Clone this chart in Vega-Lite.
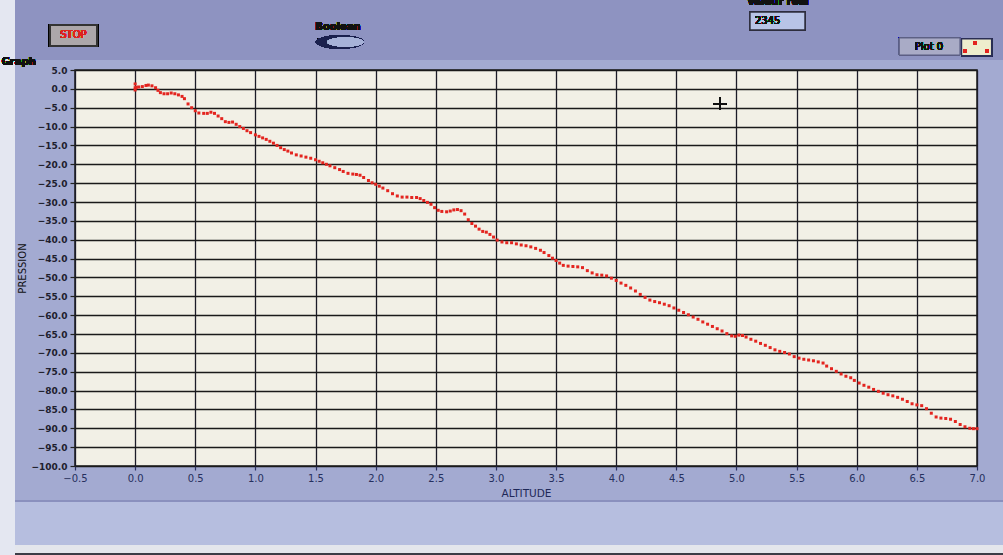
{
  "$schema": "https://vega.github.io/schema/vega-lite/v6.json",
  "autosize": {"type": "none"},
  "width": 902,
  "height": 396,
  "padding": {"left": 75, "top": 70, "right": 26, "bottom": 89},
  "background": "#a3aad1",
  "config": {
    "view": {"fill": "#f2f0e6", "stroke": "#1e1e1e", "strokeWidth": 1.5},
    "font": "DejaVu Sans"
  },
  "data": {"values": [
    {"altitude": 0.0, "pression": 1.3}, {"altitude": 0.0, "pression": 0.3}, {"altitude": 0.0, "pression": -0.3},
    {"altitude": 0.01, "pression": 0.4}, {"altitude": 0.03, "pression": 0.5}, {"altitude": 0.06, "pression": 0.6},
    {"altitude": 0.09, "pression": 0.9}, {"altitude": 0.11, "pression": 1.0}, {"altitude": 0.14, "pression": 0.8},
    {"altitude": 0.17, "pression": 0.3}, {"altitude": 0.19, "pression": -0.4}, {"altitude": 0.21, "pression": -1.0},
    {"altitude": 0.24, "pression": -1.3}, {"altitude": 0.27, "pression": -1.3}, {"altitude": 0.30, "pression": -1.1},
    {"altitude": 0.33, "pression": -1.3}, {"altitude": 0.36, "pression": -1.6}, {"altitude": 0.39, "pression": -2.0},
    {"altitude": 0.41, "pression": -2.6}, {"altitude": 0.44, "pression": -4.0}, {"altitude": 0.47, "pression": -5.0},
    {"altitude": 0.50, "pression": -5.8}, {"altitude": 0.53, "pression": -6.4}, {"altitude": 0.57, "pression": -6.5},
    {"altitude": 0.60, "pression": -6.5}, {"altitude": 0.63, "pression": -6.2}, {"altitude": 0.66, "pression": -6.5},
    {"altitude": 0.69, "pression": -7.2}, {"altitude": 0.72, "pression": -7.9}, {"altitude": 0.75, "pression": -8.7},
    {"altitude": 0.78, "pression": -8.9}, {"altitude": 0.81, "pression": -8.8}, {"altitude": 0.84, "pression": -9.4},
    {"altitude": 0.87, "pression": -10.0}, {"altitude": 0.90, "pression": -10.5}, {"altitude": 0.93, "pression": -11.1},
    {"altitude": 0.96, "pression": -11.6}, {"altitude": 1.00, "pression": -12.2}, {"altitude": 1.03, "pression": -12.6},
    {"altitude": 1.06, "pression": -13.0}, {"altitude": 1.09, "pression": -13.4}, {"altitude": 1.12, "pression": -13.9},
    {"altitude": 1.15, "pression": -14.4}, {"altitude": 1.18, "pression": -15.0}, {"altitude": 1.21, "pression": -15.6},
    {"altitude": 1.24, "pression": -16.1}, {"altitude": 1.27, "pression": -16.5}, {"altitude": 1.30, "pression": -17.0},
    {"altitude": 1.34, "pression": -17.5}, {"altitude": 1.38, "pression": -17.8}, {"altitude": 1.42, "pression": -18.1},
    {"altitude": 1.46, "pression": -18.4}, {"altitude": 1.50, "pression": -18.8}, {"altitude": 1.53, "pression": -19.2},
    {"altitude": 1.56, "pression": -19.6}, {"altitude": 1.59, "pression": -20.0}, {"altitude": 1.62, "pression": -20.4},
    {"altitude": 1.66, "pression": -20.9}, {"altitude": 1.70, "pression": -21.4}, {"altitude": 1.73, "pression": -21.9},
    {"altitude": 1.77, "pression": -22.4}, {"altitude": 1.81, "pression": -22.6}, {"altitude": 1.84, "pression": -22.7},
    {"altitude": 1.87, "pression": -22.9}, {"altitude": 1.90, "pression": -23.5}, {"altitude": 1.94, "pression": -24.3},
    {"altitude": 1.97, "pression": -24.9}, {"altitude": 2.00, "pression": -25.3}, {"altitude": 2.03, "pression": -25.8},
    {"altitude": 2.06, "pression": -26.3}, {"altitude": 2.10, "pression": -27.0}, {"altitude": 2.14, "pression": -27.8},
    {"altitude": 2.18, "pression": -28.4}, {"altitude": 2.22, "pression": -28.7}, {"altitude": 2.26, "pression": -28.7},
    {"altitude": 2.30, "pression": -28.8}, {"altitude": 2.34, "pression": -28.8}, {"altitude": 2.37, "pression": -29.1},
    {"altitude": 2.40, "pression": -29.6}, {"altitude": 2.43, "pression": -30.1}, {"altitude": 2.46, "pression": -30.6},
    {"altitude": 2.49, "pression": -31.5}, {"altitude": 2.52, "pression": -32.2}, {"altitude": 2.55, "pression": -32.5},
    {"altitude": 2.59, "pression": -32.6}, {"altitude": 2.62, "pression": -32.4}, {"altitude": 2.65, "pression": -32.1},
    {"altitude": 2.68, "pression": -32.0}, {"altitude": 2.71, "pression": -32.3}, {"altitude": 2.74, "pression": -33.2},
    {"altitude": 2.77, "pression": -34.7}, {"altitude": 2.80, "pression": -35.7}, {"altitude": 2.83, "pression": -36.4},
    {"altitude": 2.86, "pression": -37.2}, {"altitude": 2.89, "pression": -37.8}, {"altitude": 2.92, "pression": -38.0},
    {"altitude": 2.95, "pression": -38.6}, {"altitude": 2.98, "pression": -39.3}, {"altitude": 3.01, "pression": -40.1},
    {"altitude": 3.05, "pression": -40.6}, {"altitude": 3.09, "pression": -40.8}, {"altitude": 3.13, "pression": -40.8},
    {"altitude": 3.17, "pression": -41.1}, {"altitude": 3.21, "pression": -41.4}, {"altitude": 3.25, "pression": -41.6},
    {"altitude": 3.29, "pression": -41.9}, {"altitude": 3.33, "pression": -42.3}, {"altitude": 3.37, "pression": -42.8},
    {"altitude": 3.40, "pression": -43.4}, {"altitude": 3.44, "pression": -44.2}, {"altitude": 3.47, "pression": -44.9},
    {"altitude": 3.50, "pression": -45.5}, {"altitude": 3.53, "pression": -46.2}, {"altitude": 3.56, "pression": -46.8},
    {"altitude": 3.60, "pression": -47.0}, {"altitude": 3.64, "pression": -47.1}, {"altitude": 3.68, "pression": -47.2},
    {"altitude": 3.72, "pression": -47.4}, {"altitude": 3.76, "pression": -48.2}, {"altitude": 3.80, "pression": -48.8},
    {"altitude": 3.84, "pression": -49.3}, {"altitude": 3.88, "pression": -49.4}, {"altitude": 3.92, "pression": -49.6},
    {"altitude": 3.96, "pression": -50.2}, {"altitude": 4.00, "pression": -50.8}, {"altitude": 4.04, "pression": -51.5},
    {"altitude": 4.08, "pression": -52.1}, {"altitude": 4.12, "pression": -52.8}, {"altitude": 4.16, "pression": -53.6},
    {"altitude": 4.20, "pression": -54.5}, {"altitude": 4.24, "pression": -55.3}, {"altitude": 4.28, "pression": -56.0},
    {"altitude": 4.32, "pression": -56.4}, {"altitude": 4.36, "pression": -56.7}, {"altitude": 4.40, "pression": -57.1},
    {"altitude": 4.44, "pression": -57.5}, {"altitude": 4.48, "pression": -58.1}, {"altitude": 4.52, "pression": -58.7},
    {"altitude": 4.56, "pression": -59.3}, {"altitude": 4.60, "pression": -59.9}, {"altitude": 4.64, "pression": -60.5},
    {"altitude": 4.68, "pression": -61.1}, {"altitude": 4.72, "pression": -61.8}, {"altitude": 4.76, "pression": -62.4},
    {"altitude": 4.80, "pression": -63.0}, {"altitude": 4.84, "pression": -63.6}, {"altitude": 4.88, "pression": -64.2},
    {"altitude": 4.92, "pression": -64.9}, {"altitude": 4.96, "pression": -65.5}, {"altitude": 4.99, "pression": -65.6},
    {"altitude": 5.02, "pression": -65.3}, {"altitude": 5.05, "pression": -65.4}, {"altitude": 5.08, "pression": -65.8},
    {"altitude": 5.12, "pression": -66.4}, {"altitude": 5.16, "pression": -66.9}, {"altitude": 5.20, "pression": -67.5},
    {"altitude": 5.24, "pression": -68.0}, {"altitude": 5.28, "pression": -68.6}, {"altitude": 5.32, "pression": -69.2},
    {"altitude": 5.36, "pression": -69.6}, {"altitude": 5.40, "pression": -69.9}, {"altitude": 5.44, "pression": -70.3},
    {"altitude": 5.48, "pression": -71.0}, {"altitude": 5.52, "pression": -71.4}, {"altitude": 5.56, "pression": -71.7},
    {"altitude": 5.60, "pression": -71.9}, {"altitude": 5.64, "pression": -72.1}, {"altitude": 5.68, "pression": -72.4},
    {"altitude": 5.72, "pression": -72.7}, {"altitude": 5.75, "pression": -73.5}, {"altitude": 5.79, "pression": -74.2},
    {"altitude": 5.83, "pression": -74.9}, {"altitude": 5.87, "pression": -75.6}, {"altitude": 5.91, "pression": -76.2},
    {"altitude": 5.95, "pression": -76.6}, {"altitude": 5.98, "pression": -77.3}, {"altitude": 6.02, "pression": -78.0},
    {"altitude": 6.06, "pression": -78.6}, {"altitude": 6.10, "pression": -79.1}, {"altitude": 6.14, "pression": -79.7},
    {"altitude": 6.18, "pression": -80.2}, {"altitude": 6.22, "pression": -80.7}, {"altitude": 6.26, "pression": -81.1},
    {"altitude": 6.30, "pression": -81.4}, {"altitude": 6.34, "pression": -81.8}, {"altitude": 6.38, "pression": -82.3},
    {"altitude": 6.42, "pression": -82.9}, {"altitude": 6.46, "pression": -83.5}, {"altitude": 6.50, "pression": -83.8},
    {"altitude": 6.54, "pression": -84.0}, {"altitude": 6.58, "pression": -84.8}, {"altitude": 6.62, "pression": -86.0},
    {"altitude": 6.66, "pression": -87.0}, {"altitude": 6.70, "pression": -87.3}, {"altitude": 6.74, "pression": -87.4},
    {"altitude": 6.78, "pression": -87.6}, {"altitude": 6.82, "pression": -88.2}, {"altitude": 6.86, "pression": -89.0},
    {"altitude": 6.90, "pression": -89.6}, {"altitude": 6.94, "pression": -90.0}, {"altitude": 6.97, "pression": -90.1},
    {"altitude": 7.00, "pression": -90.1}
  ]},
  "layer": [
    {
      "mark": {"type": "square", "size": 9, "color": "#e3241f", "opacity": 1},
      "encoding": {
        "x": {
          "field": "altitude", "type": "quantitative",
          "scale": {"domain": [-0.5, 7.0], "nice": false, "zero": false},
          "axis": {
            "title": "ALTITUDE",
            "values": [-0.5, 0, 0.5, 1, 1.5, 2, 2.5, 3, 3.5, 4, 4.5, 5, 5.5, 6, 6.5, 7],
            "tickCount": 16,
            "format": ".1f",
            "labelOverlap": false,
            "grid": true, "gridColor": "#1c1c28", "gridWidth": 1.3, "gridOpacity": 1,
            "domain": false,
            "tickColor": "#2a3060", "tickSize": 4, "tickWidth": 1.2,
            "labelFont": "DejaVu Sans", "labelFontSize": 10, "labelColor": "#26305e", "labelPadding": 3,
            "labelFlush": false,
            "titleFont": "DejaVu Sans", "titleFontSize": 10.5, "titleFontWeight": "normal", "titleColor": "#1e2858", "titlePadding": 5
          }
        },
        "y": {
          "field": "pression", "type": "quantitative",
          "scale": {"domain": [-100, 5], "nice": false, "zero": false},
          "axis": {
            "title": "PRESSION",
            "values": [5, 0, -5, -10, -15, -20, -25, -30, -35, -40, -45, -50, -55, -60, -65, -70, -75, -80, -85, -90, -95, -100],
            "tickCount": 22,
            "format": ".1f",
            "labelOverlap": false,
            "grid": true, "gridColor": "#1a1a1a", "gridWidth": 1.3, "gridOpacity": 1,
            "domain": false,
            "tickColor": "#222", "tickSize": 5, "tickWidth": 1.2,
            "labelFont": "DejaVu Sans", "labelFontSize": 9, "labelFontWeight": "bold", "labelColor": "#1e1e2e", "labelPadding": 3,
            "labelFlush": false,
            "titleFont": "DejaVu Sans", "titleFontSize": 10, "titleFontWeight": "normal", "titleColor": "#111", "titlePadding": 3
          }
        }
      }
    },
    {
      "mark": {"type": "rect", "fill": "#8e93c1"},
      "encoding": {
        "x": {"datum": -1.124, "type": "quantitative"}, "x2": {"datum": 7.216},
        "y": {"datum": 23.6, "type": "quantitative"}, "y2": {"datum": 7.7}
      }
    },
    {
      "mark": {"type": "rect", "fill": "#b6bedf"},
      "encoding": {
        "x": {"datum": -1.124, "type": "quantitative"}, "x2": {"datum": 7.216},
        "y": {"datum": -109.2, "type": "quantitative"}, "y2": {"datum": -121.0}
      }
    },
    {
      "mark": {"type": "rect", "fill": "#8a90bd"},
      "encoding": {
        "x": {"datum": -1.124, "type": "quantitative"}, "x2": {"datum": 7.216},
        "y": {"datum": -109.0, "type": "quantitative"}, "y2": {"datum": -109.4}
      }
    },
    {
      "mark": {"type": "rect", "fill": "#e4e6ec"},
      "encoding": {
        "x": {"datum": -1.124, "type": "quantitative"}, "x2": {"datum": 7.216},
        "y": {"datum": -121.0, "type": "quantitative"}, "y2": {"datum": -123.2}
      }
    },
    {
      "mark": {"type": "rect", "fill": "#3c3c46"},
      "encoding": {
        "x": {"datum": -1.124, "type": "quantitative"}, "x2": {"datum": 7.216},
        "y": {"datum": -123.2, "type": "quantitative"}, "y2": {"datum": -123.7}
      }
    },
    {
      "mark": {"type": "rect", "fill": "#e4e7f1"},
      "encoding": {
        "x": {"datum": -1.124, "type": "quantitative"}, "x2": {"datum": -0.999},
        "y": {"datum": 23.6, "type": "quantitative"}, "y2": {"datum": -123.7}
      }
    },
    {
      "mark": {"type": "point", "shape": "M-1,0H1M0,-1V1", "size": 150, "stroke": "#111", "strokeWidth": 1.3, "filled": false, "opacity": 1},
      "encoding": {"x": {"datum": 4.863, "type": "quantitative"}, "y": {"datum": -4.0, "type": "quantitative"}}
    },
    {
      "mark": {"type": "rect", "fill": "#aca7aa", "stroke": "#333", "strokeWidth": 2},
      "encoding": {
        "x": {"datum": -0.708, "type": "quantitative"}, "x2": {"datum": -0.317},
        "y": {"datum": 16.93, "type": "quantitative"}, "y2": {"datum": 11.36}
      }
    },
    {
      "mark": {"type": "text", "text": "STOP", "color": "#e0221e", "fontSize": 10, "font": "DejaVu Sans", "align": "center", "baseline": "middle"},
      "encoding": {"x": {"datum": -0.513, "type": "quantitative"}, "y": {"datum": 14.2, "type": "quantitative"}}
    },
    {
      "mark": {"type": "text", "text": "Graph", "color": "#111", "fontSize": 10, "fontWeight": "bold", "font": "DejaVu Sans", "align": "left", "baseline": "middle"},
      "encoding": {"x": {"datum": -1.11, "type": "quantitative"}, "y": {"datum": 7.2, "type": "quantitative"}}
    },
    {
      "mark": {"type": "text", "text": "Boolean", "color": "#111", "fontSize": 10, "fontWeight": "bold", "font": "DejaVu Sans", "align": "center", "baseline": "middle"},
      "encoding": {"x": {"datum": 1.687, "type": "quantitative"}, "y": {"datum": 16.4, "type": "quantitative"}}
    },
    {
      "mark": {"type": "point", "shape": "M-1,0A1,0.28,0,1,0,1,0A1,0.28,0,1,0,-1,0Z", "size": 2304, "fill": "#1b214e", "filled": true, "opacity": 1, "strokeWidth": 0},
      "encoding": {"x": {"datum": 1.703, "type": "quantitative"}, "y": {"datum": 12.42, "type": "quantitative"}}
    },
    {
      "mark": {"type": "point", "shape": "M-1,0A1,0.25,0,1,0,1,0A1,0.25,0,1,0,-1,0Z", "size": 1300, "fill": "#a7b2d8", "filled": true, "opacity": 1, "strokeWidth": 0},
      "encoding": {"x": {"datum": 1.748, "type": "quantitative"}, "y": {"datum": 12.42, "type": "quantitative"}}
    },
    {
      "mark": {"type": "text", "text": "Valeur réel", "color": "#111", "fontSize": 10, "fontWeight": "bold", "font": "DejaVu Sans", "align": "center", "baseline": "bottom"},
      "encoding": {"x": {"datum": 5.345, "type": "quantitative"}, "y": {"datum": 21.6, "type": "quantitative"}}
    },
    {
      "mark": {"type": "rect", "fill": "#b8c4e6", "stroke": "#2e2e3e", "strokeWidth": 1.5},
      "encoding": {
        "x": {"datum": 5.112, "type": "quantitative"}, "x2": {"datum": 5.570},
        "y": {"datum": 20.38, "type": "quantitative"}, "y2": {"datum": 15.61}
      }
    },
    {
      "mark": {"type": "text", "text": "2345", "color": "#111", "fontSize": 10, "font": "DejaVu Sans", "align": "left", "baseline": "middle"},
      "encoding": {"x": {"datum": 5.154, "type": "quantitative"}, "y": {"datum": 18.0, "type": "quantitative"}}
    },
    {
      "mark": {"type": "rect", "fill": "#a9abc6", "stroke": "#5d6085", "strokeWidth": 1},
      "encoding": {
        "x": {"datum": 6.354, "type": "quantitative"}, "x2": {"datum": 6.858},
        "y": {"datum": 13.49, "type": "quantitative"}, "y2": {"datum": 8.98}
      }
    },
    {
      "mark": {"type": "text", "text": "Plot 0", "color": "#111", "fontSize": 10, "font": "DejaVu Sans", "align": "center", "baseline": "middle"},
      "encoding": {"x": {"datum": 6.60, "type": "quantitative"}, "y": {"datum": 11.2, "type": "quantitative"}}
    },
    {
      "mark": {"type": "rect", "fill": "#eeedcd", "stroke": "#2a2e55", "strokeWidth": 1.2},
      "encoding": {
        "x": {"datum": 6.872, "type": "quantitative"}, "x2": {"datum": 7.121},
        "y": {"datum": 13.22, "type": "quantitative"}, "y2": {"datum": 8.8}
      }
    },
    {
      "mark": {"type": "square", "size": 10, "color": "#e3241f", "opacity": 1},
      "encoding": {"x": {"datum": 6.983, "type": "quantitative"}, "y": {"datum": 12.2, "type": "quantitative"}}
    },
    {
      "mark": {"type": "square", "size": 10, "color": "#e3241f", "opacity": 1},
      "encoding": {"x": {"datum": 6.9, "type": "quantitative"}, "y": {"datum": 10.1, "type": "quantitative"}}
    },
    {
      "mark": {"type": "square", "size": 10, "color": "#e3241f", "opacity": 1},
      "encoding": {"x": {"datum": 7.083, "type": "quantitative"}, "y": {"datum": 10.1, "type": "quantitative"}}
    }
  ]
}
